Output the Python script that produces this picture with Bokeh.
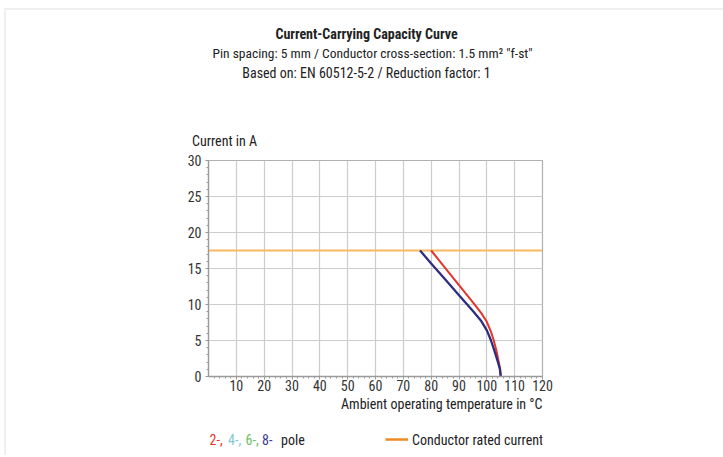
from bokeh.plotting import figure
from bokeh.models import Label, FixedTicker, Range1d, Title
from bokeh.layouts import column
from bokeh.embed import file_html
from bokeh.resources import INLINE

FONT = "'Liberation Sans Narrow', 'Roboto Condensed', 'DejaVu Sans Condensed', sans-serif"

# data
temp_2pole = [80, 85, 90, 95, 98, 100, 101.5, 102.5, 103.5, 104.3, 104.8, 105]
curr_2pole = [17.5, 15.1, 12.7, 10.3, 8.8, 7.6, 6.2, 5.0, 3.5, 2.0, 1.0, 0]
temp_8pole = [76, 80, 85, 90, 95, 98, 100, 101.5, 102.8, 104, 104.7, 105]
curr_8pole = [17.5, 15.7, 13.5, 11.3, 9.1, 7.7, 6.4, 5.0, 3.5, 2.0, 1.0, 0]
rated_current = 17.5
x_ticks = [10, 20, 30, 40, 50, 60, 70, 80, 90, 100, 110, 120]
y_ticks = [0, 5, 10, 15, 20, 25, 30]
legend_pole_parts = ["2-,", "4-,", "6-,", "8-"]
legend_pole_colors = ["#e5352b", "#7dcbd3", "#6dbf67", "#3b3b8f"]

OX, OY = 6, 10            # page offset of the layout content (margin + border)
W = 717
FL, FR = 208, 542         # frame left / right in page pixels
TOP_Y0, TOP_Y1 = OY, 100
MAIN_Y1 = 415
BOT_Y1 = 455


def text_fig(y0, y1):
    f = figure(width=W, height=int(y1 - y0), x_range=Range1d(FL, FR), y_range=Range1d(y1, y0),
               output_backend="svg", toolbar_location=None,
               x_axis_type=None, y_axis_type=None,
               min_border_left=FL - OX, min_border_right=OX + W - FR,
               min_border_top=0, min_border_bottom=0)
    f.outline_line_color = None
    f.background_fill_color = "white"
    f.border_fill_color = "white"
    return f


def lab(f, x, y, text, align="left", color="#222222", bold=False, size="14px", font=FONT):
    f.add_layout(Label(x=x, y=y, text=text, text_align=align, text_baseline="middle",
                       text_font=font, text_font_size=size, text_color=color,
                       text_font_style="bold" if bold else "normal"))


# ---- top: titles
top = text_fig(TOP_Y0, TOP_Y1)
lab(top, 366, 33, "Current-Carrying Capacity Curve", align="center", bold=True)
lab(top, 212, 52, 'Pin spacing: 5 mm / Conductor cross-section: 1.5 mm² "f-st"',
    align="left", size="13.5px")
lab(top, 366, 72, "Based on: EN 60512-5-2 / Reduction factor: 1", align="center")

# ---- main chart
p = figure(width=W, height=MAIN_Y1 - TOP_Y1, output_backend="svg", toolbar_location=None,
           x_range=Range1d(0, 120), y_range=Range1d(0, 30),
           min_border_left=FL - OX, min_border_right=OX + W - FR,
           min_border_top=160 - TOP_Y1, min_border_bottom=MAIN_Y1 - 376)
p.background_fill_color = "white"
p.border_fill_color = "white"
p.outline_line_color = "#b0b0b0"
p.outline_line_width = 1.2

p.xaxis.ticker = FixedTicker(ticks=x_ticks, minor_ticks=[i for i in range(0, 121, 2) if i % 10])
p.yaxis.ticker = FixedTicker(ticks=y_ticks, minor_ticks=[i for i in range(0, 31) if i % 5])
for ax in (p.xaxis[0], p.yaxis[0]):
    ax.axis_line_color = "#9a9a9a"
    ax.axis_line_width = 1.3
    ax.major_tick_line_color = "#9a9a9a"
    ax.minor_tick_line_color = "#9a9a9a"
    ax.major_tick_in = 0
    ax.major_tick_out = 3
    ax.minor_tick_in = 0
    ax.minor_tick_out = 2
    ax.major_label_text_font = FONT
    ax.major_label_text_font_size = "14px"
    ax.major_label_text_color = "#333333"
p.xaxis.major_label_standoff = 0
p.yaxis.major_label_standoff = 4

p.xgrid.grid_line_color = "#cccccc"
p.ygrid.grid_line_color = "#cccccc"
p.xgrid.grid_line_width = 1.2
p.ygrid.grid_line_width = 1.2

p.line([0, 120], [rated_current, rated_current], line_color="#f6b95e", line_width=2)
p.line(temp_2pole, curr_2pole, line_color="#e5352b", line_width=2)
p.line(temp_8pole, curr_8pole, line_color="#2e2e80", line_width=2.3)

p.add_layout(Title(text="Current in A", align="left", offset=-16.5,
                   text_font=FONT, text_font_size="14px", text_font_style="normal",
                   text_color="#222222", standoff=24), "above")
p.add_layout(Title(text="Ambient operating temperature in °C", align="right",
                   text_font=FONT, text_font_size="14px", text_font_style="normal",
                   text_color="#222222", standoff=0), "below")

# ---- bottom: legend
bot = text_fig(MAIN_Y1, BOT_Y1)
ly = 439
xs = [209, 227.5, 245, 261.5]
for x, t, c in zip(xs, legend_pole_parts, legend_pole_colors):
    lab(bot, x, ly, t, color=c)
lab(bot, 280.5, ly, "pole")
bot.line([385, 407.5], [ly, ly], line_color="#f08a24", line_width=2.5)
lab(bot, 411.5, ly, "Conductor rated current")

layout = column(top, p, bot, spacing=0)
layout.styles = {"margin-left": "4px", "margin-top": "8px",
                 "border-left": "2px solid #efefef", "border-top": "2px solid #efefef"}
open("out.html", "w").write(file_html(layout, INLINE))
